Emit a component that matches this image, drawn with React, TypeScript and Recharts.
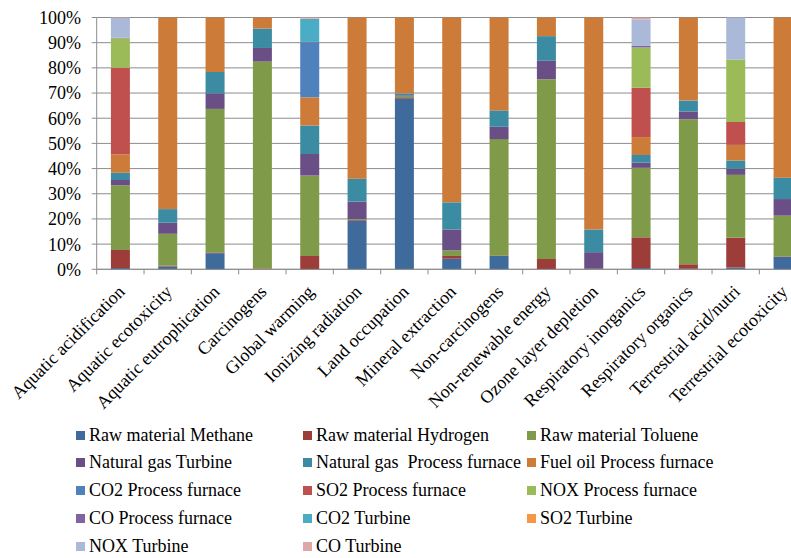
import React from "react";
import { BarChart, Bar, XAxis, YAxis, CartesianGrid, Legend } from "recharts";

const categories = [
  "Aquatic acidification",
  "Aquatic ecotoxicity",
  "Aquatic eutrophication",
  "Carcinogens",
  "Global warming",
  "Ionizing radiation",
  "Land occupation",
  "Mineral extraction",
  "Non-carcinogens",
  "Non-renewable energy",
  "Ozone layer depletion",
  "Respiratory inorganics",
  "Respiratory organics",
  "Terrestrial acid/nutri",
  "Terrestrial ecotoxicity",
];

const seriesNames = [
  "Raw material Methane",
  "Raw material Hydrogen",
  "Raw material Toluene",
  "Natural gas Turbine",
  "Natural gas  Process furnace",
  "Fuel oil Process furnace",
  "CO2 Process furnace",
  "SO2 Process furnace",
  "NOX Process furnace",
  "CO Process furnace",
  "CO2 Turbine",
  "SO2 Turbine",
  "NOX Turbine",
  "CO Turbine",
];

const seriesColors = [
  "#3F6B9C",
  "#9C3D3A",
  "#7F9A48",
  "#6A4F86",
  "#3B8BA3",
  "#CC7B38",
  "#4F81BD",
  "#C0504D",
  "#9BBB59",
  "#8064A2",
  "#4BACC6",
  "#F79646",
  "#AAB9D8",
  "#DBA9A8",
];

const rawMethane = [0.5, 1.1, 6.4, 0, 0, 19.3, 67.7, 4.2, 5.3, 0, 0, 0.5, 0.2, 0.7, 4.9];
const rawHydrogen = [7.2, 0.4, 0.3, 0.3, 5.3, 0.3, 0.3, 1.1, 0.2, 4.1, 0, 12.2, 1.8, 11.8, 0.2];
const rawToluene = [25.7, 12.6, 57.0, 82.2, 31.9, 0.3, 0.6, 2.2, 46.2, 71.4, 0.2, 27.6, 57.6, 25.0, 16.2];
const ngTurbine = [2.1, 4.4, 6.2, 5.4, 8.6, 7.0, 0.5, 8.3, 4.9, 7.3, 6.6, 2.1, 3.0, 2.4, 6.6];
const ngFurnace = [2.8, 5.4, 8.5, 7.7, 11.3, 9.1, 0.7, 10.8, 6.5, 9.8, 9.0, 3.0, 4.4, 3.3, 8.5];
const fuelOilFurnace = [7.3, 76.1, 21.6, 4.4, 11.2, 64.0, 30.2, 73.4, 36.9, 7.4, 84.2, 7.1, 33.0, 6.2, 63.6];
const co2Furnace = [0, 0, 0, 0, 21.9, 0, 0, 0, 0, 0, 0, 0, 0, 0, 0];
const so2Furnace = [34.4, 0, 0, 0, 0.1, 0, 0, 0, 0, 0, 0, 19.6, 0, 9.1, 0];
const noxFurnace = [11.8, 0, 0, 0, 0, 0, 0, 0, 0, 0, 0, 16.0, 0, 24.8, 0];
const coFurnace = [0.2, 0, 0, 0, 0, 0, 0, 0, 0, 0, 0, 0.6, 0, 0, 0];
const co2Turbine = [0, 0, 0, 0, 9.1, 0, 0, 0, 0, 0, 0, 0, 0, 0, 0];
const so2Turbine = [0, 0, 0, 0, 0.1, 0, 0, 0, 0, 0, 0, 0, 0, 0, 0];
const noxTurbine = [7.8, 0, 0, 0, 0, 0, 0, 0, 0, 0, 0, 10.5, 0, 16.7, 0];
const coTurbine = [0.2, 0, 0, 0, 0.5, 0, 0, 0, 0, 0, 0, 0.8, 0, 0, 0];

const seriesValues = [
  rawMethane,
  rawHydrogen,
  rawToluene,
  ngTurbine,
  ngFurnace,
  fuelOilFurnace,
  co2Furnace,
  so2Furnace,
  noxFurnace,
  coFurnace,
  co2Turbine,
  so2Turbine,
  noxTurbine,
  coTurbine,
];

const yTicks = [0, 0.1, 0.2, 0.3, 0.4, 0.5, 0.6, 0.7, 0.8, 0.9, 1];

const data = categories.map((name, i) => {
  const row: Record<string, any> = { name };
  seriesNames.forEach((s, k) => {
    row["s" + k] = seriesValues[k][i];
  });
  return row;
});

const FONT = '"Liberation Serif", "Times New Roman", serif';
const AXIS = "#8c8c8c";
const CHART_W = 820;
const CHART_H = 558;
const MARGIN = { top: 17.5, right: 13.3, left: 36.7, bottom: 258.7 };
const Y_W = 60;
const PLOT_W = CHART_W - MARGIN.left - MARGIN.right - Y_W;
const BAND = PLOT_W / categories.length;

const XTick = (props: any) => {
  const { x, y, payload, index } = props;
  const last = index === categories.length - 1;
  return (
    <g transform={`translate(${x},${y})`}>
      <line x1={-BAND / 2} x2={-BAND / 2} y1={0} y2={5} stroke={AXIS} />
      {last && <line x1={BAND / 2} x2={BAND / 2} y1={0} y2={5} stroke={AXIS} />}
      <text
        transform="translate(1,19) rotate(-45)"
        textAnchor="end"
        dy="0.35em"
        fontSize={18}
        fontFamily={FONT}
        fill="#000"
      >
        {payload.value}
      </text>
    </g>
  );
};

const LEG_COLS = [76, 303, 527];
const LEG_TOP = 420;
const LEG_ROW0 = 435;
const LEG_ROW_H = 27.75;

const LegendContent = () => (
  <div style={{ position: "relative", width: 791, height: 138 }}>
    {seriesNames.map((name, i) => {
      const col = i % 3;
      const row = Math.floor(i / 3);
      const cy = LEG_ROW0 + row * LEG_ROW_H - LEG_TOP;
      return (
        <div
          key={name}
          style={{
            position: "absolute",
            left: LEG_COLS[col],
            top: cy - 11,
            height: 22,
            display: "flex",
            alignItems: "center",
            whiteSpace: "pre",
            fontFamily: FONT,
            fontSize: 18,
            color: "#000",
          }}
        >
          <span
            style={{
              display: "inline-block",
              width: 9,
              height: 9,
              background: seriesColors[i],
              marginRight: 4,
            }}
          />
          <span>{name}</span>
        </div>
      );
    })}
  </div>
);

export default function App() {
  return (
    <div
      style={{
        position: "absolute",
        left: 0,
        top: 0,
        width: 791,
        height: 558,
        overflow: "hidden",
        background: "#fff",
      }}
    >
      <BarChart
        width={CHART_W}
        height={CHART_H}
        data={data}
        stackOffset="expand"
        margin={MARGIN}
        barCategoryGap="30%"
      >
        <CartesianGrid vertical={false} stroke={AXIS} strokeWidth={1} />
        <XAxis
          dataKey="name"
          interval={0}
          height={30}
          tickLine={false}
          tickSize={0}
          tickMargin={0}
          axisLine={{ stroke: AXIS }}
          tick={<XTick />}
        />
        <YAxis
          type="number"
          domain={[0, 1]}
          ticks={yTicks}
          width={Y_W}
          tickSize={5}
          tickMargin={10.7}
          axisLine={{ stroke: AXIS }}
          tickLine={{ stroke: AXIS }}
          tickFormatter={(v: number) => `${Math.round(v * 100)}%`}
          tick={{ fontSize: 18, fontFamily: FONT, fill: "#000" }}
          interval={0}
        />
        {seriesNames.map((name, k) => (
          <Bar
            key={name}
            dataKey={"s" + k}
            name={name}
            stackId="a"
            fill={seriesColors[k]}
            isAnimationActive={false}
          />
        ))}
        <Legend
          layout="vertical"
          align="center"
          verticalAlign="middle"
          content={<LegendContent />}
          wrapperStyle={{ position: "absolute", left: 0, top: LEG_TOP, width: 791, height: 138 }}
        />
      </BarChart>
    </div>
  );
}
